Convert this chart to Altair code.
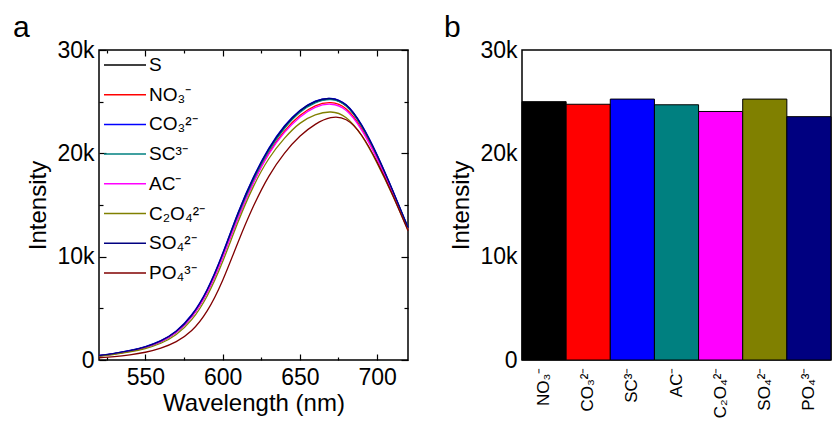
import altair as alt
import pandas as pd

# ---------------- data ----------------
wavelength = [520, 530, 540, 550, 560, 570, 580, 590, 600, 610, 620,
              630, 640, 650, 660, 670, 680, 690, 700, 710, 720]

series_names = ["S", "NO₃⁻", "CO₃²⁻", "SC³⁻", "AC⁻", "C₂O₄²⁻", "SO₄²⁻", "PO₄³⁻"]
series_colors = ["#000000", "#FF0000", "#0000FF", "#008080", "#FF00FF",
                 "#808000", "#000080", "#800000"]

s_vals = [420, 620, 880, 1250, 1810, 2710, 4250, 6650, 10100, 14000, 17500,
          20350, 22500, 24050, 24950, 25250, 24600, 22650, 19750, 16350, 12750]
no3_vals = [410, 610, 870, 1240, 1790, 2690, 4200, 6570, 9980, 13820, 17250,
            20050, 22150, 23650, 24600, 24900, 24300, 22400, 19550, 16200, 12700]
co3_vals = [450, 650, 920, 1300, 1870, 2810, 4380, 6830, 10300, 14250, 17700,
            20500, 22650, 24150, 25050, 25320, 24700, 22750, 19850, 16450, 12850]
sc_vals = [400, 600, 860, 1230, 1780, 2680, 4200, 6580, 10000, 13900, 17400,
           20250, 22400, 23950, 24880, 25200, 24580, 22620, 19730, 16350, 12780]
ac_vals = [400, 600, 860, 1230, 1780, 2680, 4180, 6530, 9900, 13720, 17150,
           19950, 22000, 23500, 24450, 24750, 24150, 22250, 19450, 16150, 12650]
c2o4_vals = [360, 540, 780, 1110, 1620, 2470, 3900, 6200, 9500, 13350, 16800,
             19500, 21450, 22900, 23720, 24000, 23450, 21700, 19050, 15950, 12600]
so4_vals = [430, 640, 900, 1280, 1850, 2780, 4330, 6780, 10250, 14200, 17650,
            20450, 22600, 24130, 25030, 25300, 24680, 22720, 19820, 16420, 12820]
po4_vals = [220, 330, 500, 750, 1150, 1780, 2850, 4750, 7700, 11400, 14900,
            17800, 20000, 21650, 22800, 23450, 23250, 21750, 19150, 16000, 12500]

all_series = [s_vals, no3_vals, co3_vals, sc_vals, ac_vals, c2o4_vals, so4_vals, po4_vals]

x_major = [550, 600, 650, 700]
x_minor = [525, 575, 625, 675]
y_major = [0, 10000, 20000, 30000]
y_minor = [5000, 15000, 25000]

bar_labels = ["NO₃⁻", "CO₃²⁻", "SC³⁻", "AC⁻", "C₂O₄²⁻", "SO₄²⁻", "PO₄³⁻"]
bar_values = [25000, 24750, 25250, 24700, 24050, 25250, 23550]
bar_colors = ["#000000", "#FF0000", "#0000FF", "#008080", "#FF00FF", "#808000", "#000080"]

# ---------------- tables ----------------
rows = []
for k, (name, vals) in enumerate(zip(series_names, all_series)):
    for wl, v in zip(wavelength, vals):
        rows.append({"wl": wl, "I": v, "series": name, "k": k})
df = pd.DataFrame(rows)
bdf = pd.DataFrame({"ion": bar_labels, "v": bar_values})

W, H = 309, 310
FONT = "Liberation Sans"
KFMT = "datum.value == 0 ? '0' : format(datum.value / 1000, 'd') + 'k'"

xscale = alt.Scale(domain=[520, 720], nice=False, zero=False)
yscale = alt.Scale(domain=[0, 30000], nice=False)

lines = alt.Chart(df).mark_line(strokeWidth=1.3, interpolate="natural").encode(
    x=alt.X("wl:Q", scale=xscale,
            axis=alt.Axis(title="Wavelength (nm)", values=x_major, ticks=False,
                          domain=False, grid=False, labelFontSize=23,
                          titleFontSize=24, labelPadding=6, titlePadding=2)),
    y=alt.Y("I:Q", scale=yscale,
            axis=alt.Axis(title="Intensity", values=y_major, labelExpr=KFMT,
                          ticks=False, domain=False, grid=False, labelFontSize=23,
                          titleFontSize=24, labelPadding=5, titlePadding=6)),
    color=alt.Color("series:N",
                    scale=alt.Scale(domain=series_names, range=series_colors),
                    legend=alt.Legend(title=None, orient="none", legendX=4, legendY=2,
                                      symbolType="stroke", symbolSize=1764,
                                      symbolStrokeWidth=1.5, labelFontSize=19,
                                      clipHeight=26, rowPadding=3.7, labelOffset=2,
                                      padding=0, labelFont=FONT)),
    detail="k:Q",
)


def tick_layer(xvals, yvals, xs, ys, xorient, yorient):
    return alt.Chart(df).mark_point(opacity=0).encode(
        x=alt.X("wl:Q", scale=xscale,
                axis=alt.Axis(orient=xorient, offset=-H, values=xvals, tickSize=xs,
                              labels=False, domain=False, grid=False, title="",
                              tickColor="black", tickWidth=1.2)),
        y=alt.Y("I:Q", scale=yscale,
                axis=alt.Axis(orient=yorient, offset=-W, values=yvals, tickSize=ys,
                              labels=False, domain=False, grid=False, title="",
                              tickColor="black", tickWidth=1.2)),
    )


panel_a = alt.layer(
    lines,
    tick_layer(x_major, y_major, 6, 7, "top", "right"),
    tick_layer(x_minor, y_minor, 3, 4, "top", "right"),
    tick_layer(x_major, y_major, 6, 7, "bottom", "left"),
    tick_layer(x_minor, y_minor, 3, 4, "bottom", "left"),
).resolve_axis(x="independent", y="independent").properties(
    width=W, height=H,
    title=alt.TitleParams("a", anchor="start", frame="group", fontSize=30,
                          fontWeight="normal", dx=-86, dy=6, offset=2, font=FONT),
)

panel_b = alt.Chart(bdf).mark_bar(stroke="black", strokeWidth=1).encode(
    x=alt.X("ion:N", sort=bar_labels,
            scale=alt.Scale(paddingInner=0, paddingOuter=0),
            axis=alt.Axis(title=None, labelAngle=-90, labelAlign="right",
                          labelBaseline="middle", labelFontSize=17, ticks=False,
                          domain=False, labelPadding=7)),
    y=alt.Y("v:Q", scale=alt.Scale(domain=[0, 30000], nice=False),
            axis=alt.Axis(title="Intensity", values=y_major, labelExpr=KFMT,
                          ticks=False, domain=False, grid=False, labelFontSize=23,
                          titleFontSize=24, labelPadding=5, titlePadding=6)),
    color=alt.Color("ion:N", scale=alt.Scale(domain=bar_labels, range=bar_colors),
                    legend=None),
).properties(
    width=W, height=H,
    title=alt.TitleParams("b", anchor="start", frame="group", fontSize=30,
                          fontWeight="normal", dx=-78, dy=6, offset=2, font=FONT),
)

chart = alt.hconcat(panel_a, panel_b, spacing=114, bounds="flush").resolve_scale(
    color="independent"
).properties(
    padding={"left": 12, "top": 12, "right": 0, "bottom": 0}
).configure(font=FONT).configure_view(
    stroke="black", strokeWidth=1.5
).configure_axis(
    labelColor="black", titleColor="black", titleFontWeight="normal",
    labelFont=FONT, titleFont=FONT
).configure_title(color="black")

chart.save("out.html", embed_options={"renderer": "svg", "actions": False})
